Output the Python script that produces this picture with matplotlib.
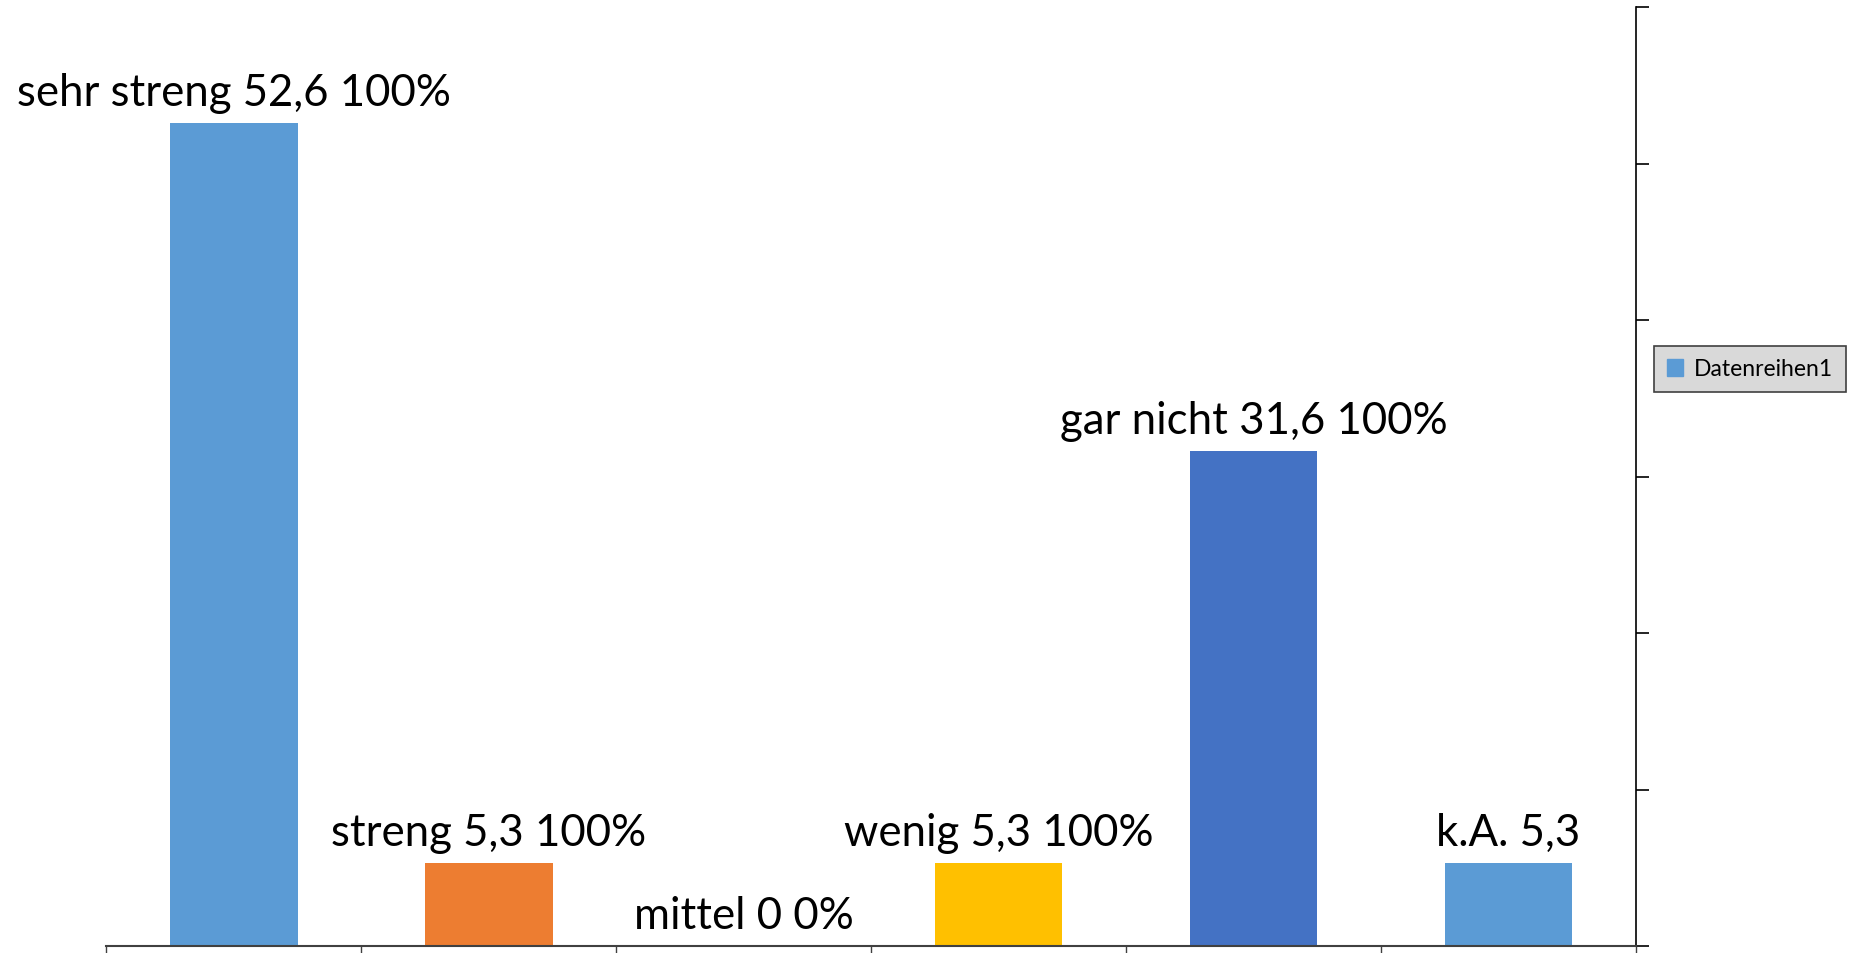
import matplotlib
matplotlib.use("Agg")
import matplotlib.pyplot as plt
from matplotlib.patches import Patch

categories = ["sehr streng", "streng", "mittel", "wenig", "gar nicht", "k.A."]
values = [52.6, 5.3, 0.0, 5.3, 31.6, 5.3]
value_labels = ["52,6", "5,3", "0", "5,3", "31,6", "5,3"]
pct_labels = ["100%", "100%", "0%", "100%", "100%", ""]
colors = ["#5B9BD5", "#ED7D31", "#A5A5A5", "#FFC000", "#4472C4", "#5B9BD5"]
series_name = "Datenreihen1"

plt.rcParams['font.family'] = ['Lato', 'DejaVu Sans']

W, H, DPI = 1856, 954, 100
fig = plt.figure(figsize=(W / DPI, H / DPI), dpi=DPI)
ax = fig.add_axes([106.5 / W, 1 - 947 / H, (1636 - 106.5) / W, (947 - 8) / H])

x = list(range(len(categories)))
ax.bar(x, values, width=0.5, color=colors, zorder=2)

for xi, v, c, vl, pl in zip(x, values, categories, value_labels, pct_labels):
    txt = " ".join(t for t in [c, vl, pl] if t)
    ax.annotate(txt, (xi, v), xytext=(0, 13), textcoords="offset points",
                ha="center", va="baseline", fontsize=31.5, color="black")

ax.set_xlim(-0.5, len(categories) - 0.5)
ax.set_ylim(0, 60)

ax.spines['left'].set_visible(False)
ax.spines['top'].set_visible(False)
ax.spines['right'].set_color("black")
ax.spines['right'].set_linewidth(1.2)
ax.spines['bottom'].set_color("#404040")
ax.spines['bottom'].set_linewidth(1.5)

ax.yaxis.tick_right()
ax.set_yticks(range(0, 61, 10))
ax.set_yticklabels([])
ax.tick_params(axis='y', direction='out', length=9, width=1.2, color="black")

ax.set_xticks([i - 0.5 for i in range(len(categories) + 1)])
ax.set_xticklabels([])
ax.tick_params(axis='x', direction='out', length=8, width=1.0, color="#404040")

leg = fig.legend(handles=[Patch(color="#5B9BD5", label=series_name)],
                 loc="center left", bbox_to_anchor=(1654 / W, 1 - 370 / H),
                 fontsize=16.5, frameon=True, fancybox=False, handlelength=0.7,
                 handleheight=0.7, borderpad=0.55, handletextpad=0.5,
                 borderaxespad=0)
frame = leg.get_frame()
frame.set_facecolor("#D9D9D9")
frame.set_edgecolor("#404040")
frame.set_alpha(1)
frame.set_linewidth(1.2)

fig.savefig("out.png", dpi=DPI, facecolor="white")
